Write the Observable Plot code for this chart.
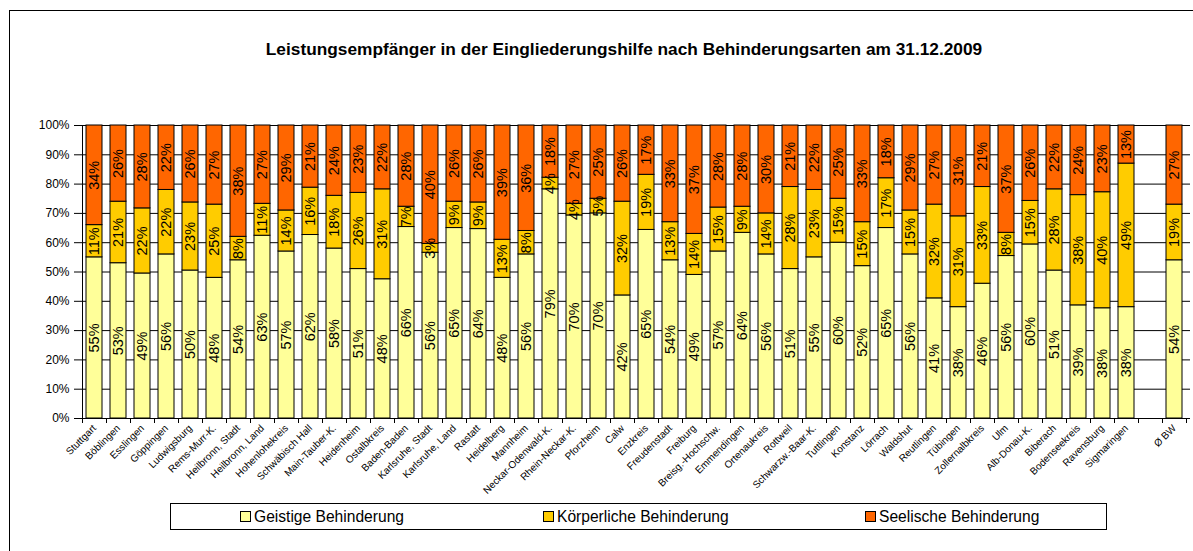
<!DOCTYPE html>
<html><head><meta charset="utf-8">
<script src="https://cdn.jsdelivr.net/npm/d3@7"></script>
<script src="https://cdn.jsdelivr.net/npm/@observablehq/plot@0.6"></script>
<style>
body{margin:0;background:#fff;font-family:"Liberation Sans",Arial,sans-serif;}
#wrap{position:relative;width:1193px;height:551px;overflow:hidden;background:#fff;}
#chart{position:absolute;left:0;top:0;}
#frame{position:absolute;left:9px;top:10px;width:1300px;height:700px;border:1px solid #000;box-sizing:border-box;pointer-events:none;}
#title{position:absolute;left:0;top:39px;width:1248px;line-height:20px;text-align:center;font-weight:bold;font-size:17.3px;white-space:nowrap;color:#000;}
#legend{position:absolute;left:170px;top:503px;width:937px;height:27px;border:1px solid #000;box-sizing:border-box;background:#fff;}
.item{position:absolute;top:0;height:25px;display:flex;align-items:center;font-size:15.6px;white-space:nowrap;color:#000;}
.sw{width:11px;height:11px;border:1px solid #000;box-sizing:border-box;margin-right:3px;}
</style>
</head><body>
<div id="wrap">
  <div id="chart"></div>
  <div id="frame"></div>
  <div id="title">Leistungsempfänger in der Eingliederungshilfe nach Behinderungsarten am 31.12.2009</div>
  <div id="legend"></div>
</div>
<script>
const categories = ["Stuttgart","Böblingen","Esslingen","Göppingen","Ludwigsburg","Rems-Murr-K.","Heilbronn, Stadt","Heilbronn, Land","Hohenlohekreis","Schwäbisch Hall","Main-Tauber-K.","Heidenheim","Ostalbkreis","Baden-Baden","Karlsruhe, Stadt","Karlsruhe, Land","Rastatt","Heidelberg","Mannheim","Neckar-Odenwald-K.","Rhein-Neckar-K.","Pforzheim","Calw","Enzkreis","Freudenstadt","Freiburg","Breisg.-Hochschw.","Emmendingen","Ortenaukreis","Rottweil","Schwarzw.-Baar-K.","Tuttlingen","Konstanz","Lörrach","Waldshut","Reutlingen","Tübingen","Zollernalbkreis","Ulm","Alb-Donau-K.","Biberach","Bodenseekreis","Ravensburg","Sigmaringen","Ø BW"];
const geistig  = [55,53,49,56,50,48,54,63,57,62,58,51,48,66,56,65,64,48,56,79,70,70,42,65,54,49,57,64,56,51,55,60,52,65,56,41,38,46,56,60,51,39,38,38,54];
const koerper  = [11,21,22,22,23,25, 8,11,14,16,18,26,31, 7, 3, 9, 9,13, 8, 4, 4, 5,32,19,13,14,15, 9,14,28,23,15,15,17,15,32,31,33, 8,15,28,38,40,49,19];
const seelisch = [34,26,28,22,26,27,38,27,29,21,24,23,22,28,40,26,26,39,36,18,27,25,26,17,33,37,28,28,30,21,22,25,33,18,29,27,31,21,37,26,22,24,23,13,27];
const seriesNames = ["Geistige Behinderung","Körperliche Behinderung","Seelische Behinderung"];
const seriesColors = ["#FFFF99","#FFCC00","#FF6600"];
const yTickValues = [0,10,20,30,40,50,60,70,80,90,100];
const gapSlot = " ";

const xDomain = [...categories.slice(0, -1), gapSlot, categories[categories.length - 1]];
const seriesValues = [geistig, koerper, seelisch];
const rows = [];
categories.forEach((c, i) => seriesValues.forEach((arr, j) => rows.push({cat: c, type: seriesNames[j], value: arr[i]})));

const padIn = 0.325;
const yTicks = yTickValues.map(v => v / 100);

function axisDecor(index, scales, values, dims) {
  const g = d3.create("svg:g").attr("stroke", "#000").attr("stroke-width", 1).attr("fill", "none");
  const s0 = scales.x(xDomain[0]);
  const step = scales.x(xDomain[1]) - s0;
  const y0 = scales.y(0), y1 = scales.y(1);
  const bounds = xDomain.map(d => scales.x(d) - step * padIn / 2);
  bounds.push(bounds[bounds.length - 1] + step);
  bounds.forEach(b => g.append("line").attr("x1", Math.round(b) + 0.5).attr("x2", Math.round(b) + 0.5).attr("y1", y0).attr("y2", y0 + 5));
  g.append("line").attr("x1", Math.round(bounds[0]) + 0.5).attr("x2", Math.round(bounds[0]) + 0.5).attr("y1", y1).attr("y2", y0);
  return g.node();
}

const plot = Plot.plot({
  width: 1193, height: 551,
  marginLeft: 79, marginRight: 3, marginTop: 125, marginBottom: 133,
  style: {fontFamily: "Liberation Sans, Arial, sans-serif", background: "transparent", color: "#000"},
  x: {domain: xDomain, paddingInner: padIn, paddingOuter: padIn / 2, label: null},
  y: {domain: [0, 1], label: null},
  color: {domain: seriesNames, range: seriesColors},
  marks: [
    Plot.gridY(yTicks, {stroke: "#000", strokeOpacity: 1}),
    Plot.barY(rows, Plot.stackY({x: "cat", y: "value", fill: "type", z: "type", order: seriesNames, offset: "normalize", stroke: "#000", strokeWidth: 1})),
    Plot.text(rows, Plot.stackY({x: "cat", y: "value", z: "type", order: seriesNames, offset: "normalize", text: d => d.value + "%", rotate: -90, fontSize: 14.5, fill: "#000"})),
    Plot.axisY({ticks: yTicks, tickFormat: d => Math.round(d * 100) + "%", tickSize: 5, tickPadding: 5, fontSize: 12, stroke: "#000"}),
    Plot.axisX({tickRotate: -45, tickSize: 0, tickPadding: 8, fontSize: 10, tickFormat: d => d.trim()}),
    axisDecor
  ]
});
document.getElementById("chart").appendChild(plot);

const legend = document.getElementById("legend");
const legendX = [69, 372, 694];
seriesNames.forEach((n, i) => {
  const it = document.createElement("div");
  it.className = "item";
  it.style.left = legendX[i] + "px";
  it.innerHTML = `<span class="sw" style="background:${seriesColors[i]}"></span><span>${n}</span>`;
  legend.appendChild(it);
});
</script>
</body></html>
